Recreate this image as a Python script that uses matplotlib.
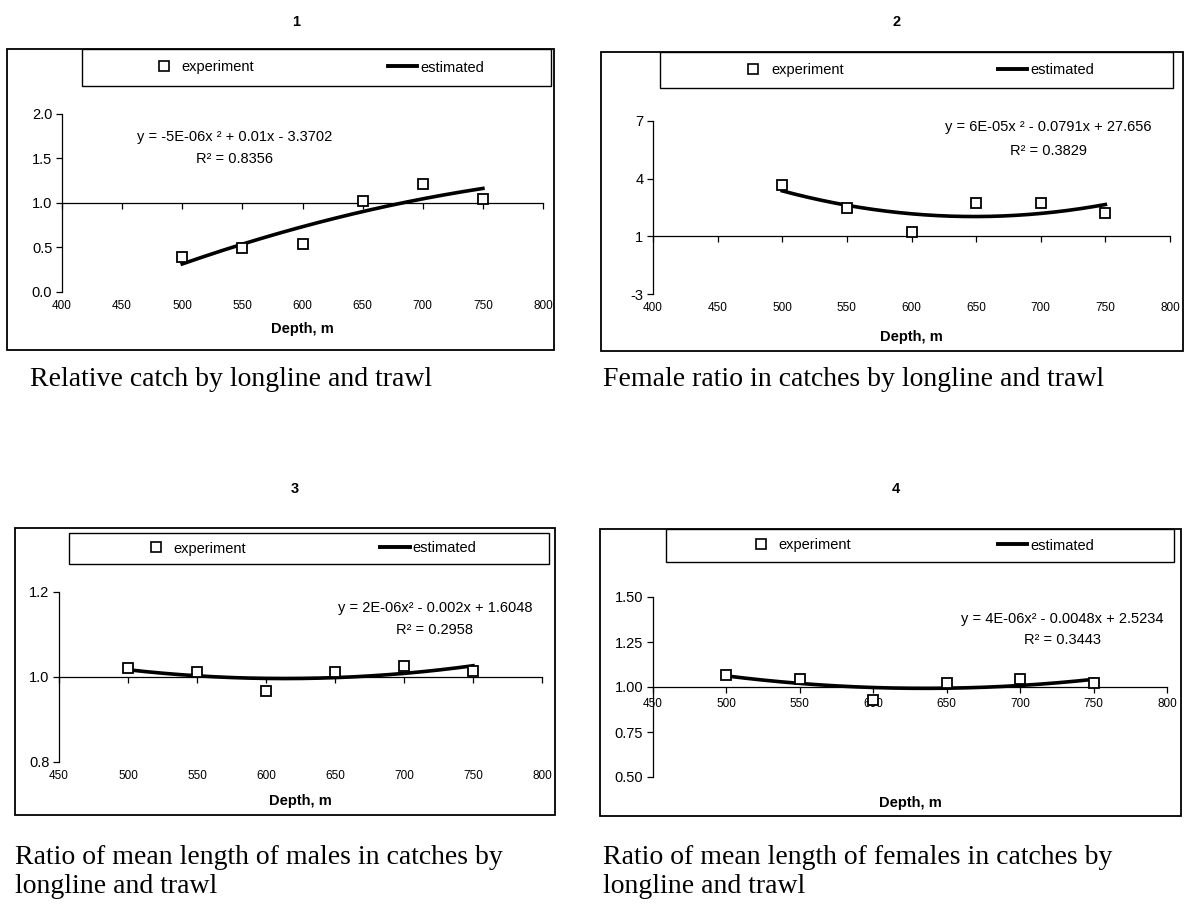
import numpy as np
import matplotlib
matplotlib.use('Agg')
import matplotlib.pyplot as plt
from matplotlib.patches import Rectangle
from matplotlib.lines import Line2D

plt.rcParams['font.family'] = ['Liberation Sans', 'DejaVu Sans']

# ---------------- data ----------------
depth = np.array([500, 550, 600, 650, 700, 750])
rel_catch        = [0.39, 0.49, 0.54, 1.02, 1.21, 1.05]
female_ratio     = [3.67, 2.47, 1.22, 2.72, 2.73, 2.22]
male_len_ratio   = [1.020, 1.011, 0.966, 1.012, 1.026, 1.015]
female_len_ratio = [1.065, 1.043, 0.930, 1.022, 1.043, 1.020]

panel_nums = ['1', '2', '3', '4']
eq_texts = ['y = -5E-06x ² + 0.01x - 3.3702',
            'y = 6E-05x ² - 0.0791x + 27.656',
            'y = 2E-06x² - 0.002x + 1.6048',
            'y = 4E-06x² - 0.0048x + 2.5234']
r2_texts = ['R² = 0.8356', 'R² = 0.3829', 'R² = 0.2958', 'R² = 0.3443']
captions = [['Relative catch by longline and trawl'],
            ['Female ratio in catches by longline and trawl'],
            ['Ratio of mean length of males in catches by', 'longline and trawl'],
            ['Ratio of mean length of females in catches by', 'longline and trawl']]
xticks_a = [400, 450, 500, 550, 600, 650, 700, 750, 800]
xticks_b = [450, 500, 550, 600, 650, 700, 750, 800]
yticks = [[0.0, 0.5, 1.0, 1.5, 2.0], [-2, 1, 4, 7], [0.8, 1.0, 1.2],
          [0.50, 0.75, 1.00, 1.25, 1.50]]
ytick_labels = [['0.0', '0.5', '1.0', '1.5', '2.0'], ['-3', '1', '4', '7'],
                ['0.8', '1.0', '1.2'], ['0.50', '0.75', '1.00', '1.25', '1.50']]
series = [rel_catch, female_ratio, male_len_ratio, female_len_ratio]

# ---------------- layout, in pixels of the 1189x907 picture ----------------
W, H = 1189, 907
panels = [
    dict(box=(7, 49, 554, 350), leg=(82, 49, 551, 86), ax=(62, 114, 543, 292),
         xt=xticks_a, lowlab=True, eq=(235, 137, 159), title=(296, 22),
         cap=(30, 386), colsp=9.2, xlab=329),
    dict(box=(601, 52, 1183, 351), leg=(660, 52, 1173, 88), ax=(653, 121, 1170, 294),
         xt=xticks_a, lowlab=True, eq=(1048, 127, 151), title=(897, 22),
         cap=(603, 386), colsp=10.6, xlab=337),
    dict(box=(15, 528, 555, 815), leg=(69, 533, 549, 564), ax=(59, 592, 542, 762),
         xt=xticks_b, lowlab=True, eq=(435, 608, 630), title=(295, 489),
         cap=(15, 864), colsp=9.2, xlab=801),
    dict(box=(600, 529, 1181, 816), leg=(666, 529, 1174, 562), ax=(653, 597, 1167, 777),
         xt=xticks_b, lowlab=False, eq=(1062, 619, 640), title=(896, 489),
         cap=(603, 864), colsp=10.1, xlab=803),
]
CAP_LINE = 29   # px between caption baselines

def fx(x): return x / W
def fy(y): return 1 - y / H

fig = plt.figure(figsize=(W / 100, H / 100), dpi=100)

for i, p in enumerate(panels):
    x0, y0, x1, y1 = p['box']
    fig.add_artist(Rectangle((fx(x0), fy(y1)), (x1 - x0) / W, (y1 - y0) / H,
                             transform=fig.transFigure, fill=False, ec='black', lw=1.3))
    lx0, ly0, lx1, ly1 = p['leg']
    fig.add_artist(Rectangle((fx(lx0), fy(ly1)), (lx1 - lx0) / W, (ly1 - ly0) / H,
                             transform=fig.transFigure, fill=False, ec='black', lw=1.0))

    a0, at, a1, ab = p['ax']
    ax = fig.add_axes([fx(a0), fy(ab), (a1 - a0) / W, (ab - at) / H])
    vals = np.array(series[i])
    coef = np.polyfit(depth, vals, 2)   # excel-style quadratic trendline
    xs = np.linspace(depth.min(), depth.max(), 200)
    ax.plot(xs, np.polyval(coef, xs), '-', color='black', lw=2.6, zorder=2)
    ax.plot(depth, vals, 's', mfc='white', mec='black', ms=7, mew=1.3, zorder=3)

    xt = p['xt']
    ax.set_xlim(xt[0], xt[-1])
    ax.set_ylim(yticks[i][0], yticks[i][-1])
    ax.set_xticks(xt)
    ax.set_yticks(yticks[i])
    ax.set_yticklabels(ytick_labels[i])
    for s in ('top', 'right'):
        ax.spines[s].set_visible(False)
    ax.spines['bottom'].set_position(('data', 1.0))
    ax.spines['bottom'].set_linewidth(0.9)
    ax.spines['left'].set_linewidth(0.9)
    ax.tick_params(axis='y', direction='out', length=4, width=0.9, pad=3, labelsize=10.5)
    ax.tick_params(axis='x', direction='out', length=4, width=0.9, pad=4, labelsize=8.5)
    if p['lowlab']:
        ax.tick_params(axis='x', labelbottom=False)
        sec = ax.secondary_xaxis(0)
        sec.set_xticks(xt)
        sec.tick_params(length=0, pad=6, labelsize=8.5)
        sec.spines['bottom'].set_visible(False)
    ax.patch.set_alpha(0)

    ax.set_xlabel('Depth, m', fontsize=10.5, fontweight='bold')
    ax.xaxis.set_label_coords(0.5, -(p['xlab'] - 7 - ab) / (ab - at))

    handles = [Line2D([], [], ls='none', marker='s', mfc='white', mec='black', ms=7, mew=1.2),
               Line2D([], [], color='black', lw=2.8)]
    ax.legend(handles, ['experiment', 'estimated'], loc='center',
              bbox_to_anchor=(fx((lx0 + lx1) / 2), fy((ly0 + ly1) / 2)),
              bbox_transform=fig.transFigure, ncol=2, frameon=False, fontsize=10.5,
              columnspacing=p['colsp'], handlelength=2.0, handletextpad=0.2)

    ex, ey1, ey2 = p['eq']
    fig.text(fx(ex), fy(ey1), eq_texts[i], ha='center', va='center', fontsize=10.5)
    fig.text(fx(ex), fy(ey2), r2_texts[i], ha='center', va='center', fontsize=10.5)

    tx, ty = p['title']
    fig.text(fx(tx), fy(ty), panel_nums[i], ha='center', va='center',
             fontsize=10.5, fontweight='bold')

    cx, cy = p['cap']
    for k, line in enumerate(captions[i]):
        fig.text(fx(cx), fy(cy + k * CAP_LINE), line, ha='left', va='baseline',
                 fontsize=20, family=['Liberation Serif', 'DejaVu Serif'])

fig.savefig('out.png', dpi=100)
